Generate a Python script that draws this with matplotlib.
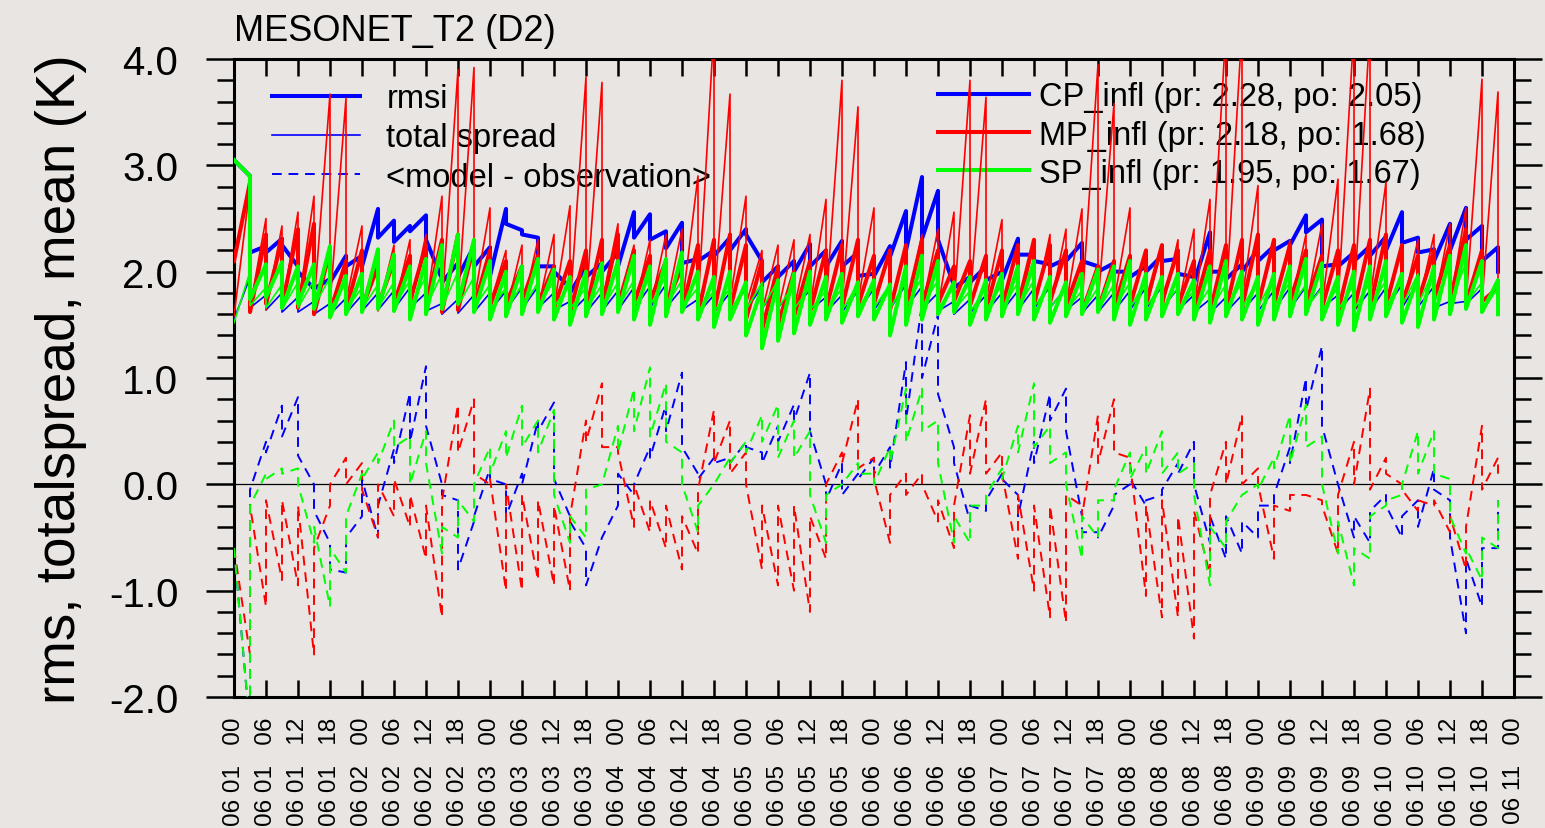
import numpy as np
import matplotlib.pyplot as plt

plt.rcParams['font.family'] = ['Liberation Sans', 'DejaVu Sans']

# analysis times (hours since 06 01 00), every 3 h
hours = np.arange(0, 240, 3)

# CP_infl
cp_rmsi_pr = [3.05, 2.90, 2.24, 2.31, 2.05, 1.84, 1.93, 2.15, 2.15, 2.59, 2.48, 2.43, 2.53, 1.93, 2.08, 2.24, 2.23, 2.59, 2.39, 2.32,
              2.05, 1.85, 2.05, 2.08, 2.18, 2.56, 2.54, 2.38, 2.46, 2.12, 2.20, 2.32, 2.40, 2.10, 2.05, 2.10, 2.26, 2.20, 2.29, 2.18,
              1.98, 2.24, 2.57, 2.89, 2.76, 1.87, 1.95, 2.05, 2.00, 2.31, 2.16, 2.07, 2.12, 2.27, 2.05, 2.08, 2.00, 2.05, 2.15, 2.12,
              1.95, 2.37, 2.00, 2.07, 2.21, 2.24, 2.29, 2.53, 2.49, 2.07, 2.18, 2.24, 2.33, 2.56, 2.32, 2.21, 2.45, 2.60, 2.43, 2.23]
cp_rmsi_po = [3.05, 2.18, 2.18, 2.25, 2.00, 1.84, 1.90, 2.05, 2.05, 2.32, 2.28, 2.38, 2.30, 1.90, 1.95, 2.05, 1.96, 2.45, 2.35, 2.05,
              2.00, 1.80, 1.95, 2.00, 2.05, 2.32, 2.30, 2.22, 2.08, 2.10, 2.15, 2.20, 2.35, 1.90, 1.95, 2.00, 2.05, 2.05, 2.05, 1.96,
              1.96, 2.14, 2.20, 2.31, 2.30, 1.85, 1.90, 1.92, 1.92, 2.16, 2.10, 2.05, 2.10, 2.10, 2.00, 2.00, 1.95, 2.00, 2.10, 1.98,
              1.90, 2.00, 1.93, 2.00, 2.10, 2.20, 2.25, 2.37, 2.05, 2.05, 2.10, 2.15, 2.20, 2.27, 2.18, 2.10, 2.20, 2.30, 2.10, 2.00]
cp_spr_pr = [1.55, 1.95, 1.78, 1.80, 1.76, 1.72, 1.70, 1.75, 1.78, 1.80, 1.82, 1.85, 1.80, 1.70, 1.74, 1.78, 1.80, 1.82, 1.85, 1.86,
             1.80, 1.72, 1.76, 1.80, 1.82, 1.85, 1.86, 1.88, 1.84, 1.74, 1.78, 1.80, 1.84, 1.86, 1.88, 1.85, 1.83, 1.76, 1.78, 1.82,
             1.84, 1.85, 1.88, 1.86, 1.80, 1.72, 1.74, 1.78, 1.80, 1.82, 1.84, 1.86, 1.85, 1.76, 1.78, 1.80, 1.82, 1.85, 1.86, 1.84,
             1.78, 1.74, 1.76, 1.78, 1.80, 1.82, 1.85, 1.86, 1.86, 1.78, 1.80, 1.82, 1.85, 1.88, 1.90, 1.86, 1.72, 1.72, 1.84, 1.92]
cp_spr_po = [1.55, 1.66, 1.64, 1.62, 1.62, 1.60, 1.60, 1.61, 1.63, 1.64, 1.65, 1.66, 1.63, 1.60, 1.61, 1.62, 1.63, 1.64, 1.65, 1.66,
             1.64, 1.61, 1.62, 1.63, 1.64, 1.65, 1.66, 1.66, 1.64, 1.61, 1.62, 1.63, 1.64, 1.65, 1.66, 1.65, 1.64, 1.62, 1.62, 1.63,
             1.64, 1.65, 1.66, 1.65, 1.63, 1.60, 1.61, 1.62, 1.63, 1.64, 1.65, 1.66, 1.64, 1.61, 1.62, 1.63, 1.64, 1.65, 1.66, 1.64,
             1.62, 1.61, 1.62, 1.63, 1.63, 1.64, 1.65, 1.66, 1.66, 1.63, 1.63, 1.64, 1.65, 1.66, 1.67, 1.66, 1.70, 1.70, 1.62, 1.62]
cp_bias_pr = [-0.60, -2.30, 0.40, 0.74, 0.82, 0.00, -0.55, -0.83, -0.30, -0.50, 0.33, 0.86, 1.11, 0.00, -0.15, -0.35, 0.15, 0.00, 0.10, 0.60,
              0.77, -0.30, -0.60, -0.50, -0.20, -0.10, 0.35, 0.75, 1.05, 0.10, 0.25, 0.25, 0.40, 0.30, 0.55, 0.75, 1.05, 0.00, 0.20, 0.10,
              0.25, 0.35, 1.15, 1.70, 1.60, 0.35, -0.35, -0.25, 0.10, -0.10, 0.40, 0.85, 0.90, -0.30, -0.45, -0.20, 0.00, -0.20, -0.10, 0.20,
              0.40, -0.55, -0.70, -0.65, -0.50, -0.20, 0.35, 1.00, 1.30, 0.00, -0.50, -0.55, -0.10, -0.50, -0.15, 0.15, -0.15, -1.40, -1.15, -0.60]
cp_bias_po = [-0.60, -0.05, 0.30, 0.45, 0.27, -0.25, -0.80, -0.50, 0.05, -0.20, 0.20, 0.40, 0.55, -0.10, -0.80, -0.30, 0.05, -0.30, 0.00, 0.50,
              0.05, -0.35, -0.95, -0.50, 0.10, 0.00, 0.25, 0.50, 0.35, 0.05, 0.20, 0.20, 0.35, 0.20, 0.40, 0.60, 0.50, -0.15, -0.10, 0.05,
              0.10, 0.15, 0.60, 1.00, 0.85, 0.20, -0.20, -0.15, 0.05, -0.30, 0.20, 0.60, 0.50, -0.45, -0.50, -0.10, 0.05, -0.15, -0.05, 0.10,
              0.00, -0.30, -0.30, -0.35, -0.20, -0.10, 0.20, 0.70, 0.55, 0.00, -0.30, -0.25, -0.20, -0.30, -0.40, -0.05, -0.50, -0.70, -0.60, -0.15]

# MP_infl
mp_rmsi_pr = [2.10, 2.84, 2.35, 2.30, 2.40, 2.45, 2.20, 2.10, 2.20, 2.05, 2.10, 2.15, 2.25, 2.30, 2.35, 2.25, 2.20, 2.10, 2.05, 2.15,
              2.05, 2.10, 2.20, 2.30, 2.35, 2.20, 2.15, 2.10, 2.05, 2.25, 2.30, 2.35, 2.25, 2.10, 2.05, 2.00, 2.10, 2.20, 2.25, 2.30,
              2.15, 2.20, 2.25, 2.30, 2.20, 2.05, 2.10, 2.15, 2.20, 2.25, 2.30, 2.25, 2.20, 2.10, 2.05, 2.10, 2.15, 2.20, 2.25, 2.20,
              2.10, 2.20, 2.25, 2.30, 2.35, 2.30, 2.25, 2.20, 2.15, 2.20, 2.25, 2.30, 2.35, 2.25, 2.15, 2.20, 2.25, 2.40, 2.20, 1.85]
mp_rmsi_po = [2.10, 1.62, 1.70, 1.68, 1.66, 1.60, 1.62, 1.64, 1.66, 1.68, 1.70, 1.72, 1.68, 1.62, 1.64, 1.66, 1.68, 1.70, 1.72, 1.70,
              1.66, 1.62, 1.64, 1.66, 1.68, 1.70, 1.72, 1.68, 1.64, 1.60, 1.62, 1.64, 1.55, 1.45, 1.50, 1.58, 1.62, 1.64, 1.66, 1.68,
              1.70, 1.64, 1.66, 1.68, 1.70, 1.72, 1.68, 1.64, 1.66, 1.68, 1.70, 1.72, 1.68, 1.62, 1.64, 1.66, 1.68, 1.70, 1.72, 1.68,
              1.64, 1.62, 1.64, 1.66, 1.68, 1.70, 1.72, 1.70, 1.66, 1.62, 1.64, 1.66, 1.68, 1.70, 1.72, 1.74, 1.72, 1.70, 1.72, 1.75]
mp_spr_pr = [1.58, 2.80, 2.50, 2.43, 2.56, 2.71, 3.67, 3.63,
             2.43, 2.20, 2.25, 2.30, 2.35, 2.71, 3.90, 3.92,
             2.60, 2.20, 2.25, 2.30, 2.35, 2.62, 3.83, 3.78,
             2.45, 2.25, 2.30, 2.35, 2.40, 2.90, 4.30, 3.67,
             2.71, 2.20, 2.25, 2.30, 2.35, 2.68, 3.80, 3.55,
             2.60, 2.20, 2.25, 2.35, 2.40, 2.56, 3.80, 3.64,
             2.49, 2.20, 2.25, 2.35, 2.40, 2.59, 3.95, 3.58,
             2.60, 2.20, 2.25, 2.30, 2.40, 2.68, 4.30, 4.30,
             2.81, 2.25, 2.30, 2.35, 2.45, 2.87, 4.30, 4.30,
             2.84, 2.25, 2.30, 2.35, 2.45, 2.60, 3.81, 3.69]
mp_spr_po = [1.58, 1.66, 1.64, 1.65, 1.66, 1.68, 1.70, 1.72,
             1.68, 1.63, 1.64, 1.65, 1.66, 1.68, 1.70, 1.72,
             1.69, 1.62, 1.63, 1.65, 1.66, 1.67, 1.70, 1.71,
             1.68, 1.63, 1.64, 1.66, 1.67, 1.68, 1.71, 1.72,
             1.69, 1.62, 1.63, 1.65, 1.66, 1.68, 1.70, 1.72,
             1.68, 1.63, 1.64, 1.65, 1.66, 1.68, 1.71, 1.72,
             1.69, 1.62, 1.63, 1.65, 1.67, 1.68, 1.70, 1.71,
             1.68, 1.63, 1.64, 1.66, 1.67, 1.69, 1.72, 1.73,
             1.70, 1.64, 1.65, 1.66, 1.68, 1.70, 1.72, 1.74,
             1.71, 1.65, 1.66, 1.68, 1.69, 1.70, 1.72, 1.74]
mp_bias_pr = [-0.60, -1.60, -1.15, -0.90, -0.95, -1.60, -0.20, 0.25, 0.20, -0.50, -0.30, -0.40, -0.70, -1.25, 0.75, 0.80, 0.00, -1.00, -1.00, -0.90,
              -0.95, -1.00, 0.60, 0.95, 0.35, -0.40, -0.45, -0.60, -0.80, -0.65, 0.70, 0.60, 0.30, -0.80, -0.95, -1.00, -1.20, -0.70, 0.30, 0.80,
              0.25, -0.55, 0.10, 0.10, -0.35, -0.60, 0.65, 0.80, 0.30, -0.70, -1.00, -1.25, -1.30, -0.20, 0.65, 0.80, 0.25, -1.05, -1.25, -1.25,
              -1.45, -0.85, 0.40, 0.65, 0.15, -0.70, -0.25, -0.10, -0.15, -0.65, 0.40, 0.90, 0.25, 0.00, -0.25, -0.20, -0.45, -0.80, 0.55, 0.25]
mp_bias_po = [-0.60, -0.20, -0.15, -0.15, -0.20, -0.60, 0.00, 0.00, -0.05, 0.00, 0.05, -0.10, -0.20, -0.15, 0.30, 0.10, 0.05, 0.00, -0.10, -0.15,
              -0.20, -0.30, 0.40, 0.35, 0.30, 0.00, -0.15, -0.20, -0.30, -0.05, 0.20, 0.10, 0.00, -0.20, -0.20, -0.20, -0.30, 0.00, 0.20, 0.15,
              0.05, -0.10, -0.10, 0.00, -0.15, -0.20, 0.10, 0.10, 0.10, -0.10, -0.20, -0.20, -0.10, -0.30, 0.20, 0.30, 0.20, -0.20, -0.15, -0.30,
              -0.25, -0.10, 0.00, 0.00, 0.00, -0.20, -0.10, -0.10, -0.20, -0.10, 0.00, -0.05, 0.10, -0.05, -0.15, -0.15, -0.30, -0.40, -0.05, 0.10]

# SP_infl
sp_rmsi_pr = [3.05, 2.90, 2.07, 2.09, 2.05, 2.07, 2.24, 1.96, 1.98, 2.21, 2.16, 2.05, 2.12, 2.25, 2.35, 2.30, 2.10, 2.00, 2.05, 2.12,
              2.02, 1.95, 2.00, 2.08, 2.10, 2.15, 2.05, 2.12, 2.18, 2.00, 1.95, 2.00, 1.90, 1.85, 1.92, 1.98, 2.00, 1.95, 1.98, 1.90,
              1.92, 1.88, 2.05, 2.15, 2.10, 1.90, 1.95, 1.92, 1.98, 2.05, 2.10, 1.95, 1.90, 1.98, 2.02, 2.05, 2.10, 1.98, 1.95, 1.98,
              1.92, 2.05, 2.10, 2.00, 1.95, 1.98, 2.05, 2.12, 2.08, 1.95, 2.00, 2.05, 2.10, 1.98, 1.95, 2.05, 2.15, 2.25, 2.10, 1.92]
sp_rmsi_po = [3.05, 1.74, 1.76, 1.66, 1.70, 1.65, 1.57, 1.60, 1.62, 1.65, 1.63, 1.55, 1.60, 1.65, 1.70, 1.62, 1.55, 1.58, 1.60, 1.62,
              1.55, 1.50, 1.58, 1.60, 1.62, 1.55, 1.50, 1.58, 1.62, 1.55, 1.48, 1.55, 1.40, 1.28, 1.35, 1.42, 1.50, 1.55, 1.52, 1.58,
              1.55, 1.40, 1.50, 1.55, 1.60, 1.62, 1.50, 1.55, 1.58, 1.60, 1.55, 1.52, 1.58, 1.60, 1.62, 1.55, 1.50, 1.55, 1.58, 1.60,
              1.55, 1.52, 1.58, 1.55, 1.50, 1.55, 1.58, 1.60, 1.55, 1.50, 1.45, 1.55, 1.58, 1.52, 1.48, 1.55, 1.60, 1.65, 1.62, 1.60]
sp_spr_pr = [1.52, 2.00, 1.85, 1.88, 1.90, 1.92, 1.95, 1.90, 1.85, 1.88, 1.90, 1.92, 1.95, 1.98, 2.00, 1.95, 1.88, 1.85, 1.88, 1.90,
             1.92, 1.88, 1.85, 1.88, 1.90, 1.92, 1.95, 1.96, 1.92, 1.85, 1.82, 1.85, 1.88, 1.90, 1.92, 1.88, 1.85, 1.82, 1.85, 1.88,
             1.90, 1.88, 1.92, 1.95, 1.92, 1.85, 1.82, 1.85, 1.88, 1.90, 1.92, 1.88, 1.85, 1.82, 1.85, 1.88, 1.90, 1.92, 1.88, 1.85,
             1.82, 1.85, 1.88, 1.90, 1.92, 1.95, 1.90, 1.88, 1.85, 1.85, 1.88, 1.90, 1.92, 1.95, 1.98, 2.02, 2.05, 2.08, 1.90, 1.85]
sp_spr_po = [1.52, 1.68, 1.66, 1.65, 1.66, 1.67, 1.65, 1.64, 1.65, 1.66, 1.67, 1.68, 1.67, 1.66, 1.68, 1.66, 1.64, 1.63, 1.65, 1.66,
             1.67, 1.65, 1.64, 1.65, 1.66, 1.67, 1.68, 1.68, 1.66, 1.63, 1.62, 1.63, 1.64, 1.65, 1.66, 1.65, 1.64, 1.62, 1.64, 1.65,
             1.66, 1.65, 1.66, 1.67, 1.66, 1.64, 1.62, 1.64, 1.65, 1.66, 1.67, 1.66, 1.64, 1.62, 1.64, 1.65, 1.66, 1.67, 1.66, 1.64,
             1.62, 1.63, 1.65, 1.66, 1.67, 1.68, 1.66, 1.65, 1.64, 1.64, 1.65, 1.66, 1.67, 1.68, 1.69, 1.70, 1.70, 1.70, 1.62, 1.60]
sp_bias_pr = [-0.60, -2.30, 0.10, 0.15, 0.15, -0.55, -1.15, -0.83, 0.10, 0.30, 0.60, 0.45, 0.50, -0.65, -0.50, -0.35, 0.35, 0.50, 0.74, 0.60,
              0.70, -0.55, -0.50, 0.00, 0.55, 0.90, 1.10, 0.95, 0.30, -0.45, 0.00, 0.25, 0.40, 0.65, 0.75, 0.60, 0.50, -0.55, 0.00, 0.20,
              0.10, 0.35, 0.90, 0.90, 0.60, -0.55, -0.55, -0.20, 0.15, 0.55, 0.95, 0.55, 0.30, -0.70, -0.50, -0.15, 0.30, 0.35, 0.50, 0.30,
              0.20, -0.95, -0.60, -0.10, 0.00, 0.25, 0.65, 0.75, 0.45, -0.65, -0.95, -0.70, -0.20, -0.10, 0.50, 0.50, 0.05, -0.65, -0.90, -0.60]
sp_bias_po = [-0.60, -0.20, 0.05, 0.10, 0.00, -0.40, -0.60, -0.30, 0.05, 0.20, 0.35, 0.00, 0.20, -0.40, -0.15, 0.00, 0.10, 0.25, 0.35, 0.30,
              -0.10, -0.30, -0.05, 0.00, 0.30, 0.50, 0.45, 0.40, 0.00, -0.20, 0.00, 0.20, 0.30, 0.40, 0.25, 0.25, -0.10, -0.10, 0.00, 0.10,
              0.00, 0.20, 0.40, 0.50, 0.20, -0.30, -0.20, -0.10, 0.05, 0.30, 0.35, 0.20, 0.00, -0.30, -0.15, -0.05, 0.05, 0.10, 0.10, 0.10,
              -0.10, -0.40, -0.35, -0.10, -0.05, 0.15, 0.20, 0.35, 0.00, -0.35, -0.60, -0.30, -0.15, 0.00, 0.10, 0.10, -0.30, -0.60, -0.50, -0.15]

exp_names = ['CP_infl (pr: 2.28, po: 2.05)',
             'MP_infl (pr: 2.18, po: 1.68)',
             'SP_infl (pr: 1.95, po: 1.67)']


def sawtooth(pr, po):
    # prior and posterior share the same time -> vertical drop at each cycle
    x = np.repeat(hours, 2)
    y = np.column_stack([pr, po]).ravel()
    return x, y


bg = '#E8E5E2'
fig = plt.figure(figsize=(15.45, 8.29), dpi=100, facecolor=bg)
ax = fig.add_axes([234 / 1545, 1 - 698 / 829, 1280 / 1545, 638 / 829])
ax.set_facecolor(bg)

dash = (0, (5, 3.5))
exps = [
    ('#0000FF', cp_rmsi_pr, cp_rmsi_po, cp_spr_pr, cp_spr_po, cp_bias_pr, cp_bias_po),
    ('#FF0000', mp_rmsi_pr, mp_rmsi_po, mp_spr_pr, mp_spr_po, mp_bias_pr, mp_bias_po),
    ('#00FF00', sp_rmsi_pr, sp_rmsi_po, sp_spr_pr, sp_spr_po, sp_bias_pr, sp_bias_po),
]
rmsi_lines = []
first = []
for color, r_pr, r_po, s_pr, s_po, b_pr, b_po in exps:
    l1, = ax.plot(*sawtooth(r_pr, r_po), color=color, lw=2.9, zorder=3)
    l2, = ax.plot(*sawtooth(s_pr, s_po), color=color, lw=1.2, zorder=3)
    l3, = ax.plot(*sawtooth(b_pr, b_po), color=color, lw=1.4, ls=dash, zorder=3)
    rmsi_lines.append(l1)
    if not first:
        first = [l1, l2, l3]

ax.axhline(0, color='black', lw=0.9, zorder=2)

ax.set_xlim(0, 240)
ax.set_ylim(-2, 4)

# x axis: every 6 h, labelled MM DD   HH
xt = np.arange(0, 241, 6)
ax.set_xticks(xt)
ax.set_xticklabels(['06 %02d   %02d' % (1 + h // 24, h % 24) for h in xt])
ax.tick_params(axis='x', direction='in', length=12, width=1.8, top=True,
               pad=14, labelsize=17.5, labelrotation=90)

ax.set_yticks(np.arange(-2, 4.01, 1))
ax.set_yticklabels(['%.1f' % v for v in np.arange(-2, 4.01, 1)])
ax.set_yticks(np.arange(-2, 4.01, 0.2), minor=True)
ax.tick_params(axis='y', which='major', direction='out', length=20, width=1.8,
               right=True, pad=20, labelsize=29)
ax.tick_params(axis='y', which='minor', direction='out', length=12, width=1.8,
               right=True)
for s in ax.spines.values():
    s.set_linewidth(2.2)

ax.set_ylabel('rms, totalspread, mean (K)', fontsize=39.5, labelpad=16)
ax.set_title('MESONET_T2 (D2)', loc='left', fontsize=26, pad=14)

leg1 = ax.legend(first, ['rmsi', 'total spread', '<model - observation>'],
                 loc='upper left', bbox_to_anchor=(0.0297, 0.962),
                 frameon=False, fontsize=23.5, handlelength=2.7,
                 handletextpad=0.8, labelspacing=0.25, borderpad=0,
                 borderaxespad=0)
leg1.set_zorder(1)
ax.add_artist(leg1)
leg2 = ax.legend(rmsi_lines, exp_names, loc='upper left',
                 bbox_to_anchor=(0.55, 0.965), frameon=False, fontsize=23.5,
                 handlelength=2.8, handletextpad=0.3, labelspacing=0.22,
                 borderpad=0, borderaxespad=0)
leg2.set_zorder(1)

fig.savefig('out.png', dpi=100, facecolor=bg)
